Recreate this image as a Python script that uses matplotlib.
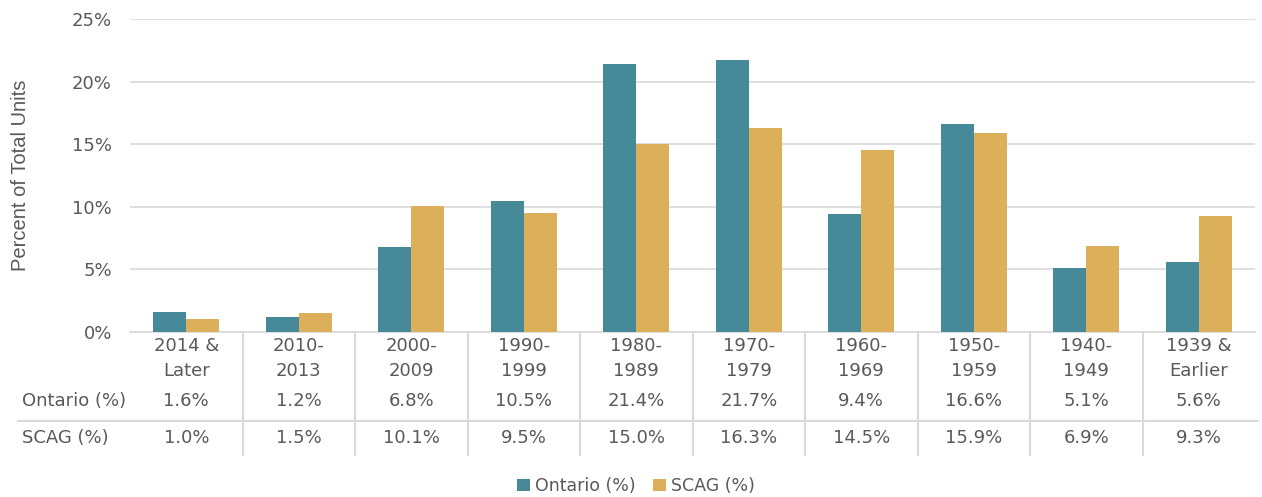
import numpy as np
import matplotlib.pyplot as plt
import matplotlib.transforms as mtransforms

categories = ["2014 &\nLater", "2010-\n2013", "2000-\n2009", "1990-\n1999", "1980-\n1989",
              "1970-\n1979", "1960-\n1969", "1950-\n1959", "1940-\n1949", "1939 &\nEarlier"]
ontario = [1.6, 1.2, 6.8, 10.5, 21.4, 21.7, 9.4, 16.6, 5.1, 5.6]
scag = [1.0, 1.5, 10.1, 9.5, 15.0, 16.3, 14.5, 15.9, 6.9, 9.3]
series_names = ["Ontario (%)", "SCAG (%)"]
yticks = [0, 5, 10, 15, 20, 25]

teal = "#468A99"
gold = "#DCAF5A"
grey = "#595959"
line_c = "#D9D9D9"

plt.rcParams['font.family'] = ['DejaVu Sans']

W, H = 1262, 497
fig = plt.figure(figsize=(W / 100, H / 100), dpi=100)
left, right, bottom, top = 130, 1255, 332, 19
ax = fig.add_axes([left / W, 1 - bottom / H, (right - left) / W, (bottom - top) / H])

x = np.arange(len(categories))
w = 0.295
b1 = ax.bar(x - w / 2, ontario, w, color=teal, label=series_names[0], zorder=3)
b2 = ax.bar(x + w / 2, scag, w, color=gold, label=series_names[1], zorder=3)

ax.set_xlim(-0.5, len(categories) - 0.5)
ax.set_ylim(0, 25)
ax.set_yticks(yticks)
ax.set_yticklabels([f"{v}%" for v in yticks], fontsize=13, color=grey)
ax.tick_params(axis='y', length=0, pad=13)
ax.set_xticks([])
ax.grid(axis='y', color=line_c, linewidth=1.2, zorder=0)
for s in ["top", "right", "left"]:
    ax.spines[s].set_visible(False)
ax.spines["bottom"].set_color(line_c)
ax.spines["bottom"].set_linewidth(1.2)

ax.set_ylabel("Percent of Total Units", fontsize=14.5, color=grey,
              family=['Liberation Sans', 'DejaVu Sans'])
ax.yaxis.set_label_coords(-0.089, 0.5)

# data table below the axes
px = bottom - top


def ay(ypix):
    return (bottom - ypix) / px


trans = mtransforms.blended_transform_factory(ax.transData, ax.transAxes)
ftrans = mtransforms.blended_transform_factory(fig.transFigure, ax.transAxes)
for i, c in enumerate(categories):
    ax.text(i, ay(337), c, transform=trans, ha='center', va='top', fontsize=13,
            color=grey, linespacing=1.5, clip_on=False)
    ax.text(i, ay(401), f"{ontario[i]:.1f}%", transform=trans, ha='center', va='center',
            fontsize=13, color=grey, clip_on=False)
    ax.text(i, ay(438), f"{scag[i]:.1f}%", transform=trans, ha='center', va='center',
            fontsize=13, color=grey, clip_on=False)
for i in range(1, len(categories)):
    ax.plot([i - 0.5, i - 0.5], [0, ay(455)], transform=trans, color=line_c,
            linewidth=1.5, clip_on=False)
ax.plot([18 / W, 1258 / W], [ay(421), ay(421)], transform=ftrans, color=line_c,
        linewidth=1.5, clip_on=False)
ax.text(22 / W, ay(401), series_names[0], transform=ftrans, ha='left', va='center',
        fontsize=13, color=grey)
ax.text(22 / W, ay(438), series_names[1], transform=ftrans, ha='left', va='center',
        fontsize=13, color=grey)

fig.legend(handles=[b1, b2], loc='center', bbox_to_anchor=(636 / W, 1 - 486 / H),
           ncol=2, frameon=False, fontsize=12.5, labelcolor=grey,
           handlelength=0.75, handleheight=0.75, handletextpad=0.3, columnspacing=1.0)

fig.savefig("out.png", dpi=100)
